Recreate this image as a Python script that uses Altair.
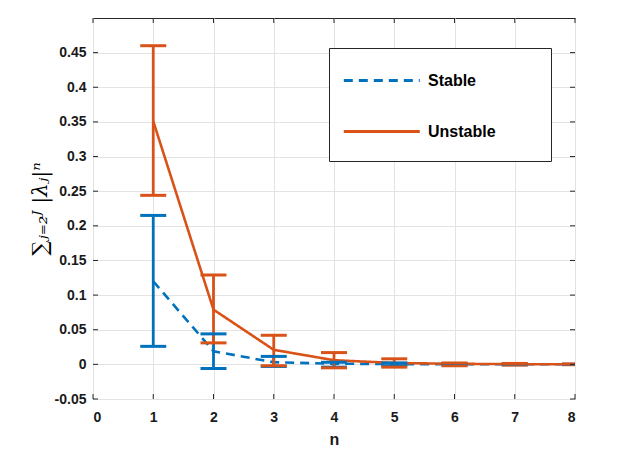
import altair as alt
import pandas as pd

n = [1, 2, 3, 4, 5, 6, 7, 8]
series_names = ["Stable", "Unstable"]

stable_mean = [0.120, 0.019, 0.003, 0.001, 0.0004, 0.0002, 0.0001, 0.00005]
stable_lo = [0.026, -0.006, -0.003, -0.004, -0.002, -0.001, -0.0005, -0.0002]
stable_hi = [0.215, 0.044, 0.0115, 0.003, 0.002, 0.0012, 0.0006, 0.0002]

unstable_mean = [0.351, 0.079, 0.021, 0.006, 0.002, 0.0008, 0.0003, 0.0001]
unstable_lo = [0.244, 0.031, -0.002, -0.005, -0.004, -0.002, -0.001, -0.0005]
unstable_hi = [0.460, 0.129, 0.042, 0.017, 0.008, 0.002, 0.0013, 0.0006]

x_ticks = [0, 1, 2, 3, 4, 5, 6, 7, 8]
y_ticks = [-0.05, 0, 0.05, 0.1, 0.15, 0.2, 0.25, 0.3, 0.35, 0.4, 0.45]

colors = ["#0072BD", "#D95319"]
dashes = [[9, 6], [1, 0]]

rows = []
for name, m, lo, hi in [("Stable", stable_mean, stable_lo, stable_hi),
                        ("Unstable", unstable_mean, unstable_lo, unstable_hi)]:
    for i in range(len(n)):
        rows.append({"n": n[i], "series": name, "mean": m[i], "lo": lo[i], "hi": hi[i]})
df = pd.DataFrame(rows)

ytick_df = pd.DataFrame({"v": y_ticks})
xtick_df = pd.DataFrame({"v": x_ticks})

FONT = "Liberation Sans"
AX = "#262626"
W, H = 482, 381
Y_TITLE = "∑ⱼ₌₂ᴶ |λⱼ|ⁿ"

xs = alt.Scale(domain=[0, 8], nice=False, zero=False)
ys = alt.Scale(domain=[-0.05, 0.5], nice=False, zero=False)
cscale = alt.Scale(domain=series_names, range=colors)
dscale = alt.Scale(domain=series_names, range=dashes)

legend = alt.Legend(
    title="MM",
    titleOrient="right", titlePadding=0, titleFontSize=20, titleOpacity=0,
    titleFont=FONT, titleFontWeight="bold",
    orient="none", legendX=236, legendY=30,
    symbolType="M-1.77,0H5.83", symbolSize=400, symbolStrokeWidth=3,
    labelOffset=55, labelFont=FONT, labelFontWeight="bold", labelFontSize=16,
    labelColor="#000000", rowPadding=31, padding=21,
    strokeColor=AX, fillColor="#ffffff",
)

x_axis = alt.Axis(values=x_ticks, format="d", grid=True, ticks=False, domain=False,
                  labelPadding=11, title="n", titlePadding=7)
y_axis = alt.Axis(values=y_ticks, grid=True, ticks=False, domain=False,
                  labelPadding=7,
                  labelExpr="datum.value == 0 ? '0' : (datum.value < 0 ? '-' + format(-datum.value, '.2~f') : format(datum.value, '.2~f'))",
                  title=Y_TITLE, titlePadding=4)


def X(field):
    return alt.X(field, scale=xs, axis=x_axis, title="n")


def Y(field):
    return alt.Y(field, scale=ys, axis=y_axis, title=Y_TITLE)


lines = alt.Chart(df).mark_line(strokeWidth=2.6, clip=True).encode(
    x=X("n:Q"),
    y=Y("mean:Q"),
    color=alt.Color("series:N", scale=cscale, legend=legend),
    strokeDash=alt.StrokeDash("series:N", scale=dscale, legend=legend),
    order="n:Q",
)

bars = alt.Chart(df).mark_rule(strokeWidth=2.8, clip=True).encode(
    x=X("n:Q"),
    y=Y("lo:Q"),
    y2="hi:Q",
    color=alt.Color("series:N", scale=cscale, legend=None),
)

caps_lo = alt.Chart(df).mark_tick(orient="horizontal", size=26, thickness=3,
                                  opacity=1, clip=True).encode(
    x=X("n:Q"),
    y=Y("lo:Q"),
    color=alt.Color("series:N", scale=cscale, legend=None),
)
caps_hi = alt.Chart(df).mark_tick(orient="horizontal", size=26, thickness=3,
                                  opacity=1, clip=True).encode(
    x=X("n:Q"),
    y=Y("hi:Q"),
    color=alt.Color("series:N", scale=cscale, legend=None),
)

tk = dict(color=AX, strokeWidth=1)
yt_left = alt.Chart(ytick_df).mark_rule(**tk).encode(
    y=Y("v:Q"), x=alt.value(0), x2=alt.value(5))
yt_right = alt.Chart(ytick_df).mark_rule(**tk).encode(
    y=Y("v:Q"), x=alt.value(W - 5), x2=alt.value(W))
xt_bottom = alt.Chart(xtick_df).mark_rule(**tk).encode(
    x=X("v:Q"), y=alt.value(H - 5), y2=alt.value(H))
xt_top = alt.Chart(xtick_df).mark_rule(**tk).encode(
    x=X("v:Q"), y=alt.value(0), y2=alt.value(5))

chart = alt.layer(
    lines, bars, caps_lo, caps_hi, yt_left, yt_right, xt_bottom, xt_top
).properties(
    width=W, height=H,
    autosize=alt.AutoSizeParams(type="none"),
    padding={"left": 85, "top": 10, "right": 40, "bottom": 60},
).configure_view(
    stroke=AX, strokeWidth=1
).configure_axis(
    labelFont=FONT, labelFontWeight="bold", labelFontSize=14, labelColor="#1a1a1a",
    titleFont=FONT, titleFontWeight="bold", titleFontSize=16, titleColor="#1a1a1a",
    gridColor="#e3e3e3", gridWidth=1,
).configure_axisY(
    titleFont="DejaVu Serif", titleFontWeight="normal", titleFontStyle="italic",
    titleFontSize=21, titleColor="#000000",
)

chart.save("out.html", embed_options={"renderer": "svg", "actions": False})
